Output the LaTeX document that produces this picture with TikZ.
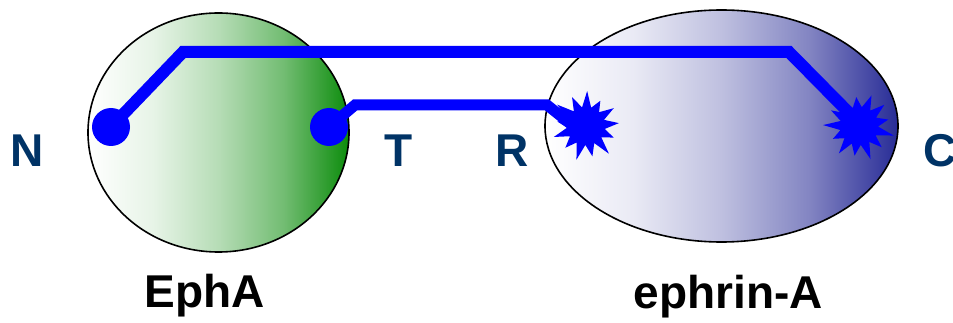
\documentclass[tikz,border=0pt]{standalone}
\usepackage{fontspec}
\setmainfont{Liberation Sans}
\usetikzlibrary{shapes.geometric}
\definecolor{gr}{RGB}{12,140,12}
\colorlet{grA}{gr!10!white}
\colorlet{grB}{gr!30!white}
\colorlet{grC}{gr!58!white}
\definecolor{nv}{RGB}{40,44,150}
\colorlet{nvA}{nv!10!white}
\colorlet{nvB}{nv!30!white}
\colorlet{nvC}{nv!58!white}
\definecolor{txt}{RGB}{0,51,102}
\definecolor{wire}{RGB}{0,0,255}
\pgfdeclarehorizontalshading{greenshade}{100bp}{color(0bp)=(white); color(25bp)=(white); color(37.5bp)=(grA); color(50bp)=(grB); color(62.5bp)=(grC); color(75bp)=(gr); color(100bp)=(gr)}
\pgfdeclarehorizontalshading{blueshade}{100bp}{color(0bp)=(white); color(25bp)=(white); color(37.5bp)=(nvA); color(50bp)=(nvB); color(62.5bp)=(nvC); color(75bp)=(nv); color(100bp)=(nv)}
\tikzset{
  cell/.style={ellipse, draw=black, line width=1.6pt, inner sep=0pt},
  wireline/.style={draw=wire, line width=12pt, miter limit=10},
  dot/.style={circle, fill=wire, minimum size=38pt, inner sep=0pt},
  letterlbl/.style={text=txt, font=\bfseries\fontsize{46}{46}\selectfont, anchor=base, inner sep=0pt},
  protlbl/.style={text=black, font=\bfseries\fontsize{46}{46}\selectfont, anchor=base, inner sep=0pt},
}
\newcommand\burstat[2]{%
  \fill[wire, shift={#1}, rotate=#2] (0:33) \foreach \a/\r in {27.7/30,55.4/36,83.1/31,110.8/35,138.5/30,166.2/34,193.8/29,221.5/36,249.2/32,276.9/35,304.6/29,332.3/33} { -- (\a-13.85:19) -- (\a:\r) } -- (346.15:19) -- cycle;}
\begin{document}
\begin{tikzpicture}[x=1pt,y=-1pt]
\useasboundingbox (0,0) rectangle (953,323);
% cells
\node[cell, shade, shading=greenshade, minimum width=261pt, minimum height=239pt] (ephA) at (218.5,132.5) {};
\node[cell, shade, shading=blueshade, minimum width=353pt, minimum height=232pt] (ephrinA) at (721.5,126) {};
% anchor points
\coordinate (pN) at (111,127);
\coordinate (pT) at (329,127);
\coordinate (pR) at (586,126);
\coordinate (pC) at (859,126);
\coordinate (wR) at (572,125);
\coordinate (wC) at (860,124);
\coordinate (k1) at (183,52);
\coordinate (k2) at (789,52);
\coordinate (k3) at (355,105);
\coordinate (k4) at (547,105);
% wires
\draw[wireline] (pN) -- (k1) -- (k2) -- (wC);
\draw[wireline, line width=11pt] (pT) -- (k3) -- (k4) -- (wR);
% ends
\node[dot] (dN) at (pN) {};
\node[dot] (dT) at (pT) {};
\burstat{(pR)}{5}
\burstat{(pC)}{40}
% labels
\node[letterlbl] (lN) at (27,167) {N};
\node[letterlbl] (lT) at (399,167) {T};
\node[letterlbl] (lR) at (512,167) {R};
\node[letterlbl] (lC) at (940,167) {C};
\node[protlbl] (nE) at (205,307) {EphA};
\node[protlbl] (nF) at (728.5,308) {ephrin-A};
\end{tikzpicture}
\end{document}
